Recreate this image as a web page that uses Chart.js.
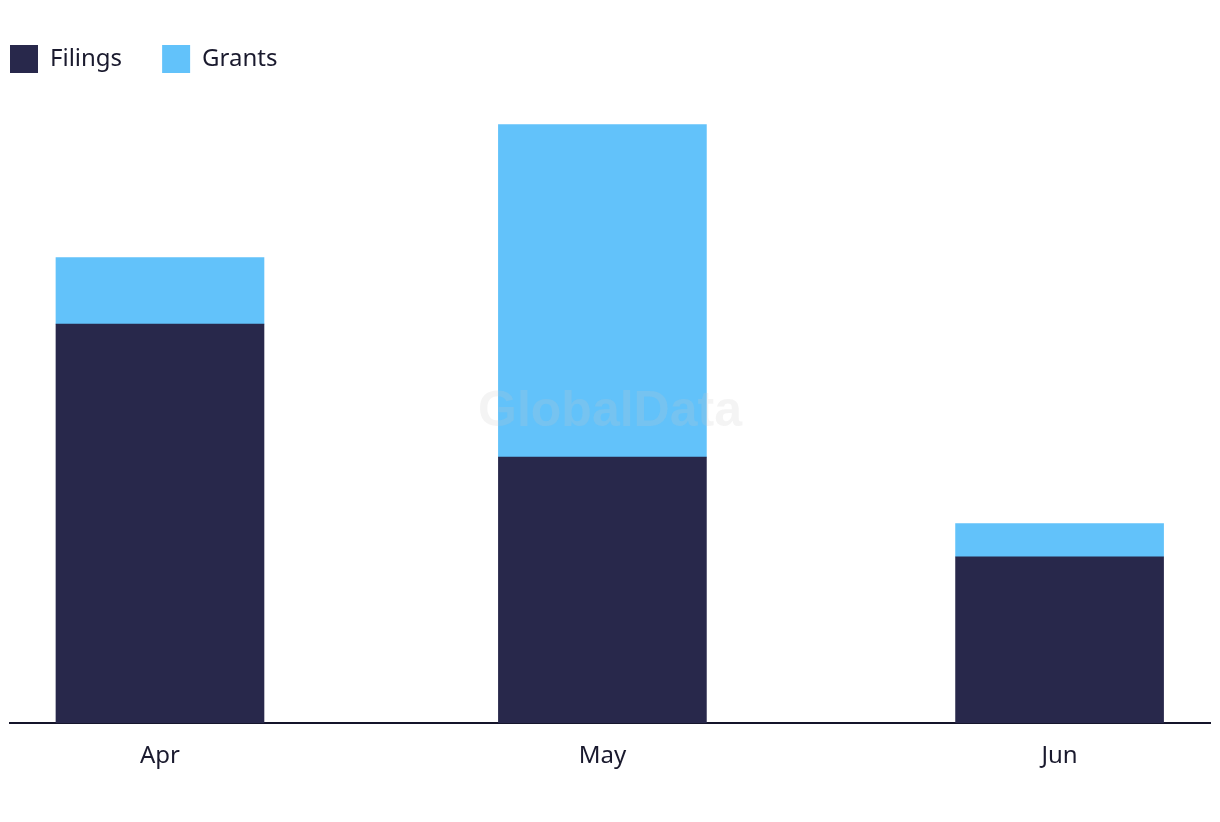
<!DOCTYPE html>
<html>
<head>
<meta charset="utf-8">
<script src="https://cdn.jsdelivr.net/npm/chart.js@4/dist/chart.umd.min.js"></script>
<style>
html,body{margin:0;padding:0;background:#fff;}
#wrap{width:1220px;height:822px;position:relative;}
</style>
</head>
<body>
<div id="wrap"><canvas id="c" width="1220" height="822"></canvas></div>
<script>
const categories = ['Apr', 'May', 'Jun'];
const dayOffsets = [0, 30, 61];
const filings = [12, 8, 5];
const grants = [2, 10, 1];
const watermark = 'GlobalData';

const FONT = '"Noto Sans", "Open Sans", sans-serif';
const LEGEND_PAD = 40;

const legendShift = {
  id: 'legendShift',
  afterLayout(chart) {
    const lg = chart.legend;
    if (lg) { const d = (lg.left + LEGEND_PAD) - 10; lg.left -= d; lg.right -= d; }
  }
};

const wm = {
  id: 'wm',
  afterDatasetsDraw(chart) {
    const ctx = chart.ctx;
    ctx.save();
    ctx.font = 'bold 50px "Liberation Sans", Arial, sans-serif';
    ctx.fillStyle = 'rgba(200,200,200,0.2)';
    ctx.textAlign = 'center';
    ctx.textBaseline = 'middle';
    ctx.fillText(watermark, 610, 412);
    ctx.restore();
  }
};

new Chart(document.getElementById('c'), {
  type: 'bar',
  data: {
    datasets: [
      { label: 'Filings', data: dayOffsets.map((x, i) => ({ x: x, y: filings[i] })), backgroundColor: '#28284b', borderWidth: 0, barThickness: 208 },
      { label: 'Grants', data: dayOffsets.map((x, i) => ({ x: x, y: grants[i] })), backgroundColor: '#62c2fa', borderWidth: 0, barThickness: 208 }
    ]
  },
  options: {
    responsive: false,
    animation: false,
    layout: { padding: { left: 10, right: 10, top: 5, bottom: 32 } },
    plugins: {
      legend: {
        position: 'top',
        align: 'start',
        labels: {
          boxWidth: 28, boxHeight: 28, padding: LEGEND_PAD,
          color: '#1a1a2e',
          font: { family: FONT, size: 24 }
        }
      },
      tooltip: { enabled: false }
    },
    scales: {
      x: {
        type: 'linear',
        stacked: true,
        offset: false,
        min: -10.17,
        max: 71.2,
        grid: { display: false, drawTicks: false, offset: false },
        border: { display: true, color: '#14142a', width: 2 },
        afterBuildTicks(scale) { scale.ticks = dayOffsets.map(v => ({ value: v })); },
        ticks: {
          autoSkip: false, maxRotation: 0, padding: 19,
          color: '#1a1a2e',
          font: { family: FONT, size: 24 },
          callback: (v) => categories[dayOffsets.indexOf(v)]
        }
      },
      y: {
        display: false,
        stacked: true,
        min: 0,
        max: 19.25
      }
    }
  },
  plugins: [legendShift, wm]
});
</script>
</body>
</html>
